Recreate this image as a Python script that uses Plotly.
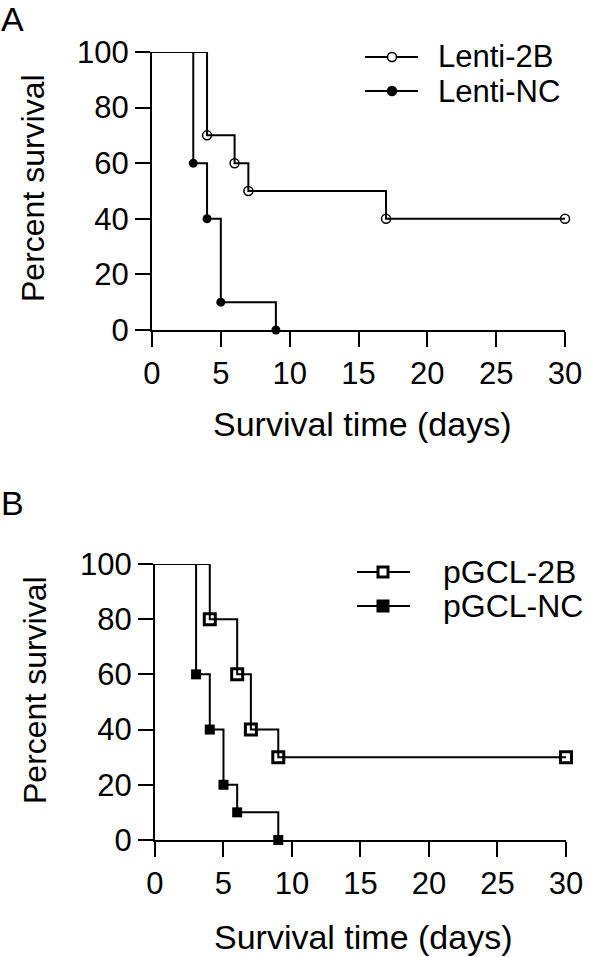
import plotly.graph_objects as go

# ---- data ----
days_lenti_2b = [0, 4, 6, 7, 17, 30]
surv_lenti_2b = [100, 70, 60, 50, 40, 40]
days_lenti_nc = [0, 3, 4, 5, 9]
surv_lenti_nc = [100, 60, 40, 10, 0]
days_pgcl_2b = [0, 4, 6, 7, 9, 30]
surv_pgcl_2b = [100, 80, 60, 40, 30, 30]
days_pgcl_nc = [0, 3, 4, 5, 6, 9]
surv_pgcl_nc = [100, 60, 40, 20, 10, 0]
x_ticks = [0, 5, 10, 15, 20, 25, 30]
y_ticks = [0, 20, 40, 60, 80, 100]
legend_a = ["Lenti-2B", "Lenti-NC"]
legend_b = ["pGCL-2B", "pGCL-NC"]
x_title = "Survival time (days)"
y_title = "Percent survival"

FONT = "Liberation Sans, Arial, sans-serif"
LW = 2
W, H = 600, 957

fig = go.Figure()

def add_curve(x, y, name, symbol, msize, mline, xa, ya):
    fig.add_trace(go.Scatter(x=x, y=y, mode="lines", line=dict(color="black", width=LW, shape="hv"),
                             showlegend=False, xaxis=xa, yaxis=ya, cliponaxis=False, hoverinfo="skip"))
    fig.add_trace(go.Scatter(x=x[1:], y=y[1:], mode="markers", name=name, showlegend=False,
                             marker=dict(symbol=symbol, size=msize, color="black",
                                         line=dict(color="black", width=mline)),
                             xaxis=xa, yaxis=ya, cliponaxis=False))

add_curve(days_lenti_2b, surv_lenti_2b, legend_a[0], "circle-open", 9, 1.5, "x", "y")
add_curve(days_lenti_nc, surv_lenti_nc, legend_a[1], "circle", 9, 0, "x", "y")
add_curve(days_pgcl_2b, surv_pgcl_2b, legend_b[0], "square-open", 11, 3, "x2", "y2")
add_curve(days_pgcl_nc, surv_pgcl_nc, legend_b[1], "square", 10, 0, "x2", "y2")

axis_common = dict(showline=True, linecolor="black", linewidth=LW, ticks="outside", ticklen=15,
                   tickwidth=LW, tickcolor="black", showgrid=False, zeroline=False, automargin=False,
                   tickfont=dict(family=FONT, size=31, color="black"))

shapes, annotations = [], []

def px(x):
    return x / W

def py(y):
    return 1 - y / H

def text(label, x, y, size, xanchor="center", angle=0):
    annotations.append(dict(text=label, x=px(x), y=py(y), xref="paper", yref="paper",
                            xanchor=xanchor, yanchor="middle", showarrow=False, textangle=angle,
                            borderpad=0, font=dict(family=FONT, size=size, color="black")))

# ---- hand-drawn legends (pixel positions) ----
def legend_entry(label, yc, x0, x1, xm, xt, kind, filled, fsize):
    shapes.append(dict(type="line", xref="paper", yref="paper", x0=px(x0), x1=px(x1), y0=py(yc), y1=py(yc),
                       line=dict(color="black", width=LW)))
    r = 4.5 if kind == "circle" else 5
    shapes.append(dict(type="circle" if kind == "circle" else "rect", xref="paper", yref="paper",
                       xsizemode="pixel", ysizemode="pixel", xanchor=px(xm), yanchor=py(yc),
                       x0=-r, x1=r, y0=-r, y1=r,
                       fillcolor="black" if filled else "white",
                       line=dict(color="black", width=1.5 if kind == "circle" else 3)))
    text(label, xt, yc, fsize, xanchor="left")

legend_entry(legend_a[0], 57, 365, 418, 392, 437, "circle", False, 31)
legend_entry(legend_a[1], 91, 365, 418, 392, 437, "circle", True, 31)
legend_entry(legend_b[0], 572, 357, 410, 383, 442, "square", False, 32)
legend_entry(legend_b[1], 606, 357, 410, 383, 442, "square", True, 32)

# panel letters and axis titles
text("A", 0, 19, 34, xanchor="left")
text("B", 0, 503, 34, xanchor="left")
text(x_title, 362, 424, 34)
text(x_title, 363, 937, 34)
text(y_title, 33, 188, 32, angle=-90)
text(y_title, 35, 690, 32, angle=-90)

fig.update_layout(
    template="none",
    width=W, height=H, margin=dict(l=0, r=0, t=0, b=0),
    paper_bgcolor="white", plot_bgcolor="white",
    font=dict(family=FONT, color="black"),
    showlegend=False,
    xaxis=dict(domain=[0.2533, 0.9417], range=[0, 30], tickvals=x_ticks, anchor="y", **axis_common),
    yaxis=dict(domain=[0.6552, 0.9457], range=[0, 100], tickvals=y_ticks, anchor="x", **axis_common),
    xaxis2=dict(domain=[0.2583, 0.9433], range=[0, 30], tickvals=x_ticks, anchor="y2", **axis_common),
    yaxis2=dict(domain=[0.1223, 0.4107], range=[0, 100], tickvals=y_ticks, anchor="x2", **axis_common),
    shapes=shapes,
    annotations=annotations,
)

fig.write_html("out.html", config={"displayModeBar": False},
               post_script="document.body.style.margin='0px';")
